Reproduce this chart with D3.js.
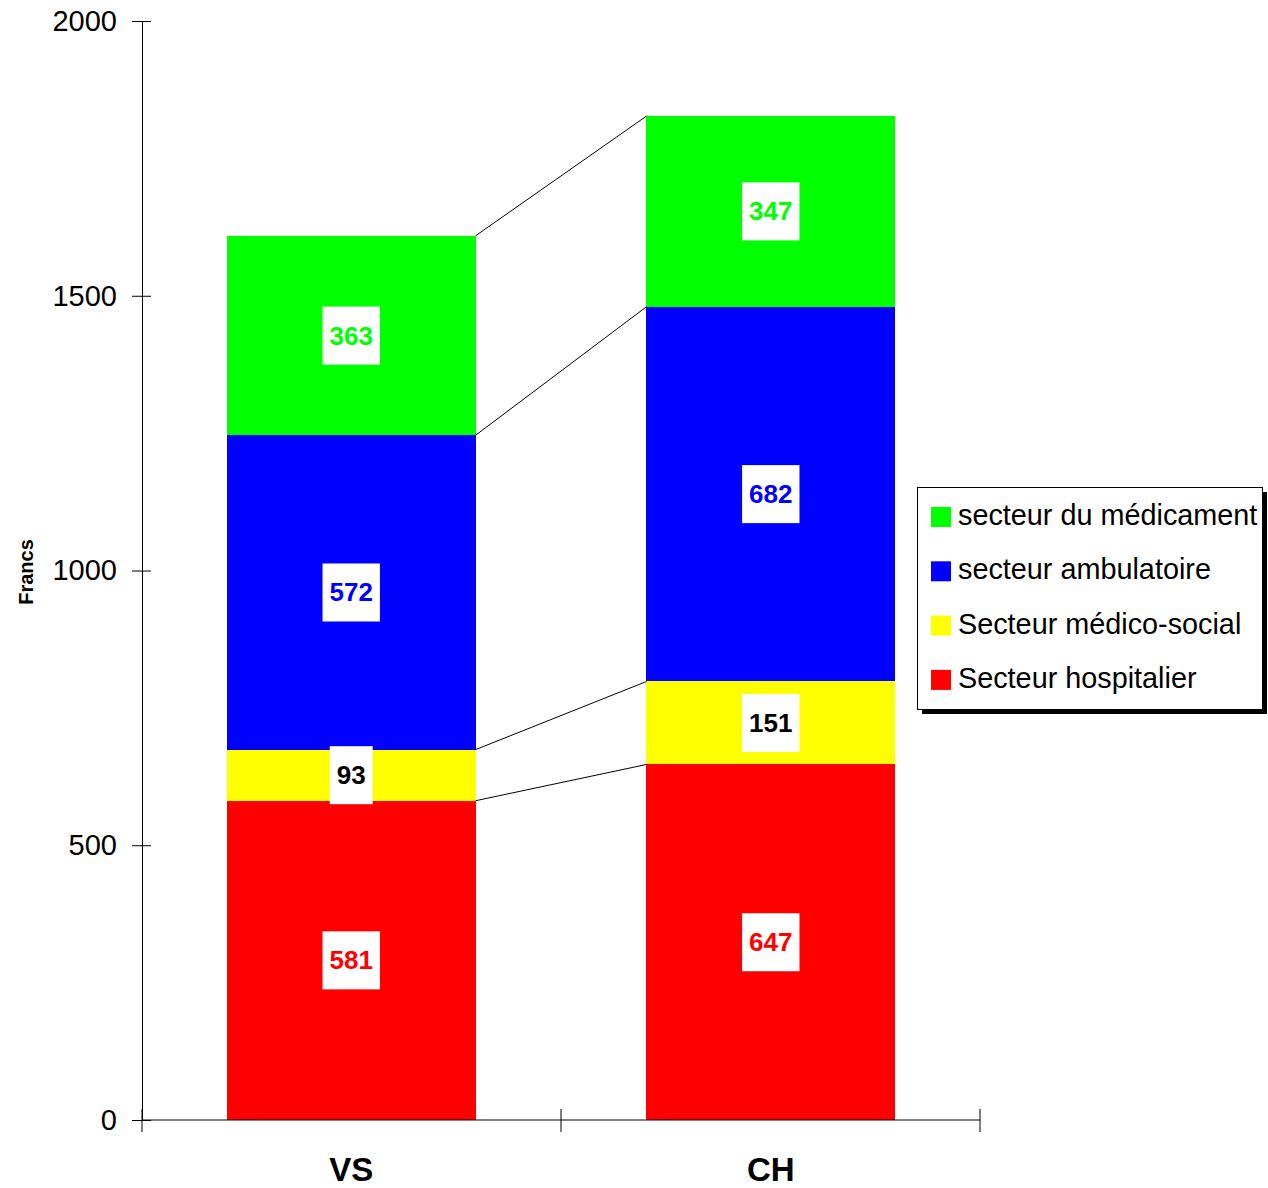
<!DOCTYPE html>
<html>
<head>
<meta charset="utf-8">
<script src="https://cdn.jsdelivr.net/npm/d3@7"></script>
<style>
html, body { margin: 0; padding: 0; background: #fff; }
svg { display: block; font-family: "Liberation Sans", Arial, sans-serif; }
</style>
</head>
<body>
<svg id="chart" width="1268" height="1188"></svg>
<script>
const categories = ["VS", "CH"];
const seriesKeys = ["Secteur hospitalier", "Secteur médico-social", "secteur ambulatoire", "secteur du médicament"];
const hospitalier = [581, 647];
const medicoSocial = [93, 151];
const ambulatoire = [572, 682];
const medicament = [363, 347];
const yTicks = [0, 500, 1000, 1500, 2000];
const seriesColors = ["#ff0000", "#ffff00", "#0000ff", "#00ff00"];
const labelColors = ["#ff0000", "#000000", "#0000ff", "#00ff00"];
const yTitle = "Francs";

const rows = categories.map((c, i) => ({
  cat: c,
  [seriesKeys[0]]: hospitalier[i],
  [seriesKeys[1]]: medicoSocial[i],
  [seriesKeys[2]]: ambulatoire[i],
  [seriesKeys[3]]: medicament[i]
}));

const svg = d3.select("#chart");
const x = d3.scaleBand().domain(categories).range([142, 980]).paddingInner(0.4075).paddingOuter(0.2024);
const y = d3.scaleLinear().domain([0, 2000]).range([1120, 21]);
const color = d3.scaleOrdinal().domain(seriesKeys).range(seriesColors);
const lblColor = d3.scaleOrdinal().domain(seriesKeys).range(labelColors);

const stacked = d3.stack().keys(seriesKeys)(rows);

// bars
const layers = svg.append("g").selectAll("g").data(stacked).join("g").attr("fill", d => color(d.key));
layers.selectAll("rect").data(d => d).join("rect")
  .attr("x", d => x(d.data.cat))
  .attr("width", x.bandwidth())
  .attr("y", d => y(d[1]))
  .attr("height", d => y(d[0]) - y(d[1]))
  .attr("shape-rendering", "crispEdges");

// connector lines
svg.append("g").selectAll("line").data(stacked).join("line")
  .attr("x1", x(categories[0]) + x.bandwidth())
  .attr("y1", d => y(d[0][1]))
  .attr("x2", x(categories[1]))
  .attr("y2", d => y(d[1][1]))
  .attr("stroke", "#000").attr("stroke-width", 1);

// axes
const yAxis = svg.append("g").attr("transform", "translate(142,0)")
  .call(d3.axisLeft(y).tickValues(yTicks).tickFormat(d3.format("d")).tickSize(10).tickPadding(15).tickSizeOuter(0));
yAxis.select(".domain").attr("stroke", "#000");
yAxis.selectAll(".tick line").attr("x1", 9).attr("stroke", "#000");
yAxis.selectAll(".tick text").attr("font-size", 29).attr("fill", "#000").attr("font-family", "Liberation Sans, Arial, sans-serif");

const [r0, r1] = x.range();
const xBoundaries = [r0, (r0 + r1) / 2, r1];
const xAxisG = svg.append("g");
xAxisG.append("line").attr("x1", r0).attr("x2", r1).attr("y1", y(0)).attr("y2", y(0)).attr("stroke", "#000");
xAxisG.selectAll("line.t").data(xBoundaries).join("line").attr("class", "t")
  .attr("x1", d => d).attr("x2", d => d).attr("y1", y(0) - 11).attr("y2", y(0) + 12)
  .attr("stroke", "#000");
xAxisG.selectAll("text").data(categories).join("text")
  .attr("x", d => x(d) + x.bandwidth() / 2)
  .attr("y", 1181)
  .attr("text-anchor", "middle")
  .attr("font-size", 33).attr("font-weight", "bold")
  .text(d => d);

// y title
svg.append("text")
  .attr("transform", "translate(33,572) rotate(-90)")
  .attr("text-anchor", "middle")
  .attr("font-size", 20).attr("font-weight", "bold")
  .text(yTitle);

// value labels
const lblG = svg.append("g");
stacked.forEach(layer => {
  layer.forEach(d => {
    const cx = x(d.data.cat) + x.bandwidth() / 2;
    const cy = (y(d[0]) + y(d[1])) / 2;
    const g = lblG.append("g");
    const rect = g.append("rect").attr("fill", "#fff");
    const t = g.append("text")
      .attr("x", cx).attr("y", cy)
      .attr("text-anchor", "middle")
      .attr("dominant-baseline", "central")
      .attr("font-size", 26).attr("font-weight", "bold")
      .attr("fill", lblColor(layer.key))
      .text(d[1] - d[0]);
    const w = t.node().getComputedTextLength() + 14;
    rect.attr("x", cx - w / 2).attr("y", cy - 29).attr("width", w).attr("height", 58);
  });
});

// legend
const lg = svg.append("g");
lg.append("rect").attr("x", 922).attr("y", 492).attr("width", 345).attr("height", 222).attr("fill", "#000");
lg.append("rect").attr("x", 917.5).attr("y", 487.5).attr("width", 345).attr("height", 222).attr("fill", "#fff").attr("stroke", "#000");
const legendKeys = seriesKeys.slice().reverse();
const li = lg.selectAll("g.item").data(legendKeys).join("g").attr("class", "item")
  .attr("transform", (d, i) => `translate(931,${507 + i * 54.3})`);
li.append("rect").attr("width", 20).attr("height", 20).attr("fill", d => color(d));
li.append("text").attr("x", 27).attr("y", 8).attr("dominant-baseline", "central")
  .attr("font-size", 28.8).text(d => d);
</script>
</body>
</html>
